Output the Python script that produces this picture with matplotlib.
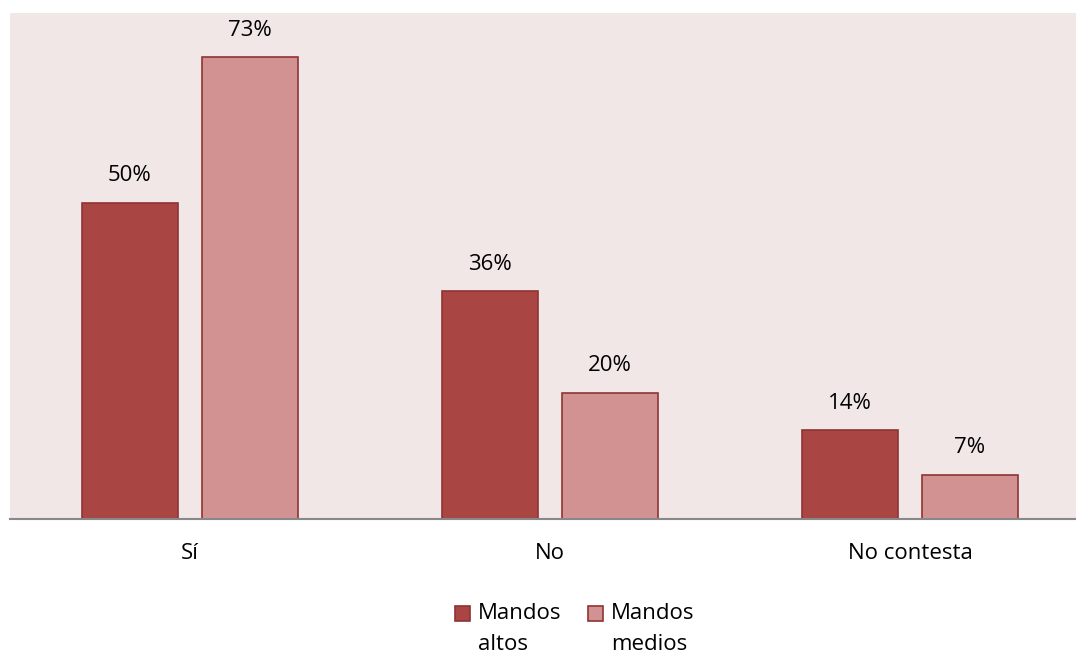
import numpy as np
import matplotlib.pyplot as plt
from matplotlib.patches import Rectangle

categories = ['Sí', 'No', 'No contesta']
altos = [50, 36, 14]
medios = [73, 20, 7]
series_names = ['Mandos\naltos', 'Mandos\nmedios']

c_altos = '#A94543'
c_medios = '#D39292'
c_edge = '#8E3433'
bg = '#F2E7E7'

plt.rcParams['font.family'] = ['Open Sans', 'DejaVu Sans']

W, H = 1076, 655
fig = plt.figure(figsize=(W / 100, H / 100), dpi=100)
ax = fig.add_axes([10 / W, 1 - 519 / H, 1066 / W, 506 / H])
ax.set_facecolor(bg)

x = np.arange(len(categories))
w = 0.2667
off = 0.1667
b1 = ax.bar(x - off, altos, w, color=c_altos, edgecolor=c_edge, linewidth=1.2, zorder=2)
b2 = ax.bar(x + off, medios, w, color=c_medios, edgecolor=c_edge, linewidth=1.2, zorder=2)

for bars, vals in ((b1, altos), (b2, medios)):
    for r, v in zip(bars, vals):
        ax.annotate(f'{v}%', (r.get_x() + r.get_width() / 2, v),
                    xytext=(0, 12), textcoords='offset points',
                    ha='center', va='bottom', fontsize=16)

ax.set_xlim(-0.5, 2.5 - 14 / 360)
ax.set_ylim(0, 80)
ax.set_yticks([])
ax.set_xticks(x)
ax.set_xticklabels(categories, fontsize=16)
ax.tick_params(axis='x', length=0, pad=17)
for s in ['top', 'right', 'left']:
    ax.spines[s].set_visible(False)
ax.spines['bottom'].set_color('#888888')
ax.spines['bottom'].set_linewidth(1.5)

# legend drawn by hand so the squares line up with the first text line
for x0, col, name in ((455, c_altos, series_names[0]), (588, c_medios, series_names[1])):
    fig.patches.append(Rectangle((x0 / W, 1 - 621 / H), 15 / W, 15 / H,
                                 transform=fig.transFigure, facecolor=col,
                                 edgecolor=c_edge, linewidth=1.2))
    fig.text((x0 + 23) / W, 1 - 603 / H, name, ha='left', va='top',
             fontsize=16, linespacing=1.6)

fig.savefig('out.png', dpi=100)
